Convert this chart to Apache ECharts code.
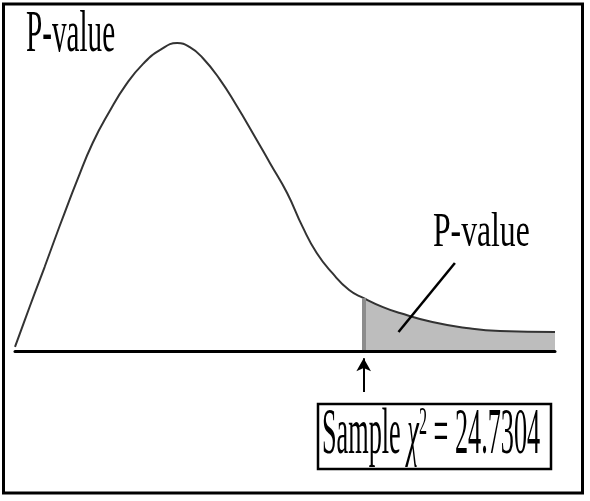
<!DOCTYPE html>
<html>
<head>
<meta charset="utf-8">
<script src="https://cdn.jsdelivr.net/npm/echarts@6/dist/echarts.min.js"></script>
<style>
html, body { margin: 0; padding: 0; background: #fff; }
#main { width: 590px; height: 501px; }
</style>
</head>
<body>
<div id="main"></div>
<script>
// curve (chi-square statistic, density)
const chiX = [0, 0.7, 1.4, 2.1, 2.8, 3.5, 4.4, 5.5, 6.7, 7.9, 9.1, 10.3, 11.5, 12.4, 13.3, 14.5,
    15.7, 16.9, 18.1, 19.3, 20.4, 21.4, 22.5, 23.7, 24.7304, 26.1, 27.3, 29.6, 32.0, 34.4, 38.3];
const density = [0.0013, 0.0100, 0.0186, 0.0270, 0.0357, 0.0442, 0.0548, 0.0668, 0.0770, 0.0858,
    0.0924, 0.0968, 0.0990, 0.0977, 0.0943, 0.0875, 0.0790, 0.0698, 0.0603, 0.0508, 0.0399,
    0.0315, 0.0251, 0.0196, 0.0170, 0.0141, 0.0122, 0.0093, 0.0074, 0.0064, 0.0061];
const sampleChi = 24.7304;
const pLabel = 'P-value';
const sampleText = '{n|Sample }{i|χ}{s|2}{n| = ' + sampleChi + '}';

let curve = chiX.map((x, i) => [x, density[i]]);
let tail = curve.filter(d => d[0] >= sampleChi);
let cutY = tail[0][1];

let chart = echarts.init(document.getElementById('main'));

let option = {
    animation: false,
    grid: { left: 15, right: 35, top: 40, bottom: 25.6 },
    xAxis: {
        type: 'value', min: 0, max: 38.3, z: 5,
        axisLine: { show: true, onZero: true, lineStyle: { color: '#000', width: 3 } },
        axisTick: { show: false }, axisLabel: { show: false }, splitLine: { show: false }
    },
    yAxis: {
        type: 'value', min: -0.04, max: 0.1, show: false,
        splitLine: { show: false }
    },
    series: [
        {
            // shaded right tail
            type: 'line',
            data: tail,
            smooth: 0.5,
            symbol: 'none',
            lineStyle: { width: 0 },
            areaStyle: { color: '#bdbdbd', opacity: 1 },
            silent: true,
            markLine: {
                silent: true,
                symbol: 'none',
                label: { show: false },
                data: [
                    [{ coord: [sampleChi, 0], lineStyle: { color: '#8c8c8c', width: 4, type: 'solid' } },
                     { coord: [sampleChi, cutY] }]
                ]
            }
        },
        {
            type: 'line',
            data: curve,
            smooth: 0.5,
            symbol: 'none',
            lineStyle: { color: '#333', width: 2 },
            silent: true,
            markLine: {
                silent: true,
                label: { show: false },
                data: [
                    // arrow up to the sample statistic
                    [{ coord: [sampleChi, -0.0132], symbol: 'none', lineStyle: { color: '#000', width: 2, type: 'solid' } },
                     { coord: [sampleChi, -0.0023], symbol: 'arrow', symbolSize: [11, 13] }],
                    // pointer from the label into the tail
                    [{ coord: [31.2, 0.0283], symbol: 'none', lineStyle: { color: '#000', width: 2.5, type: 'solid' } },
                     { coord: [27.2, 0.0061], symbol: 'none' }]
                ]
            }
        }
    ],
    graphic: [
        {
            type: 'rect', silent: true,
            shape: { x: 3.5, y: 4, width: 579, height: 489 },
            style: { fill: 'none', stroke: '#000', lineWidth: 3 }
        },
        {
            type: 'text', silent: true, x: 26, y: 4.8, scaleX: 0.486,
            style: { text: pLabel, fontFamily: 'Liberation Serif', fontSize: 60, fill: '#000', verticalAlign: 'top' }
        },
        {
            type: 'text', silent: true, x: 433, y: 209.8, scaleX: 0.66,
            style: { text: pLabel, fontFamily: 'Liberation Serif', fontSize: 48, fill: '#000', verticalAlign: 'top' }
        },
        {
            type: 'rect', silent: true,
            shape: { x: 318, y: 404, width: 233, height: 65 },
            style: { fill: '#fff', stroke: '#000', lineWidth: 2.5 }
        },
        {
            type: 'text', silent: true, x: 322, y: 403.6, scaleX: 0.404,
            style: {
                text: sampleText, fill: '#000', verticalAlign: 'top',
                rich: {
                    n: { fontFamily: 'Liberation Serif', fontSize: 65, fill: '#000' },
                    i: { fontFamily: 'Liberation Serif', fontStyle: 'italic', fontSize: 65, fill: '#000' },
                    s: { fontFamily: 'Liberation Serif', fontSize: 40, fill: '#000', verticalAlign: 'top' }
                }
            }
        }
    ]
};

chart.setOption(option);
</script>
</body>
</html>
